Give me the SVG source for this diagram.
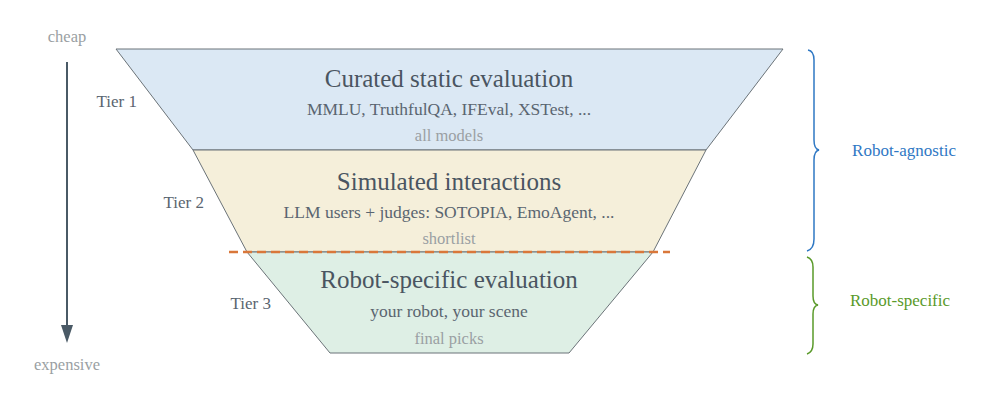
<svg xmlns="http://www.w3.org/2000/svg" width="997" height="402" viewBox="0 0 997 402" font-family="'Liberation Serif', 'Times New Roman', Times, 'DejaVu Serif', serif">
<style>
text{font-family:'Liberation Serif','Times New Roman',Times,'DejaVu Serif',serif;text-anchor:middle}
.t{font-size:25px;fill:#4a5561}
.s{font-size:17.5px;fill:#5a6570}
.m{font-size:16.5px;fill:#9a9fa3}
.tier{font-size:17px;fill:#5a6570;text-anchor:end}
.tr{stroke:#6b7378;stroke-width:1}
</style>
<rect width="997" height="402" fill="#fff"/>
<g id="axis">
<text x="67" y="42" class="m">cheap</text>
<text x="67" y="370" class="m">expensive</text>
<line x1="67" y1="62" x2="67" y2="328" stroke="#4a5a66" stroke-width="2"/>
<path d="M61,325 L73,325 L67,343 z" fill="#4a5a66"/>
</g>
<g id="tier1">
<path class="tr" d="M116,49 L783,49 L706,150 L193,150 z" fill="#dbe8f4"/>
<text x="449" y="87" class="t">Curated static evaluation</text>
<text x="449" y="115" class="s">MMLU, TruthfulQA, IFEval, XSTest, ...</text>
<text x="449" y="141" class="m">all models</text>
<text x="137" y="107" class="tier">Tier 1</text>
</g>
<g id="tier2">
<path class="tr" d="M193,150 L706,150 L653,252 L247,252 z" fill="#f5efda"/>
<text x="449" y="190" class="t">Simulated interactions</text>
<text x="449" y="218" class="s">LLM users + judges: SOTOPIA, EmoAgent, ...</text>
<text x="449" y="244" class="m">shortlist</text>
<text x="204" y="208" class="tier">Tier 2</text>
</g>
<g id="tier3">
<path class="tr" d="M247,252 L653,252 L569,353 L330,353 z" fill="#deefe5"/>
<text x="449" y="288" class="t">Robot-specific evaluation</text>
<text x="449" y="317" class="s">your robot, your scene</text>
<text x="449" y="344" class="m">final picks</text>
<text x="271" y="309" class="tier">Tier 3</text>
</g>
<g id="connectors">
<line x1="229" y1="252" x2="670" y2="252" stroke="#d9773a" stroke-width="2.5" stroke-dasharray="9,5"/>
</g>
<g id="brace-agnostic">
<path d="M808,50 Q814,51 814,60 L814,140 Q814,149 819,150 Q814,151 814,160 L814,239 Q814,249 807,251" fill="none" stroke="#2f78c4" stroke-width="1.5"/>
<text x="904" y="156" style="font-size:17px;fill:#2f78c4">Robot-agnostic</text>
</g>
<g id="brace-specific">
<path d="M807,257 Q813,259 813,267 L813,296 Q813,304 818,305 Q813,306 813,314 L813,344 Q813,352 807,354" fill="none" stroke="#5a9a2a" stroke-width="1.5"/>
<text x="900" y="306" style="font-size:17px;fill:#5a9a2a">Robot-specific</text>
</g>
</svg>
